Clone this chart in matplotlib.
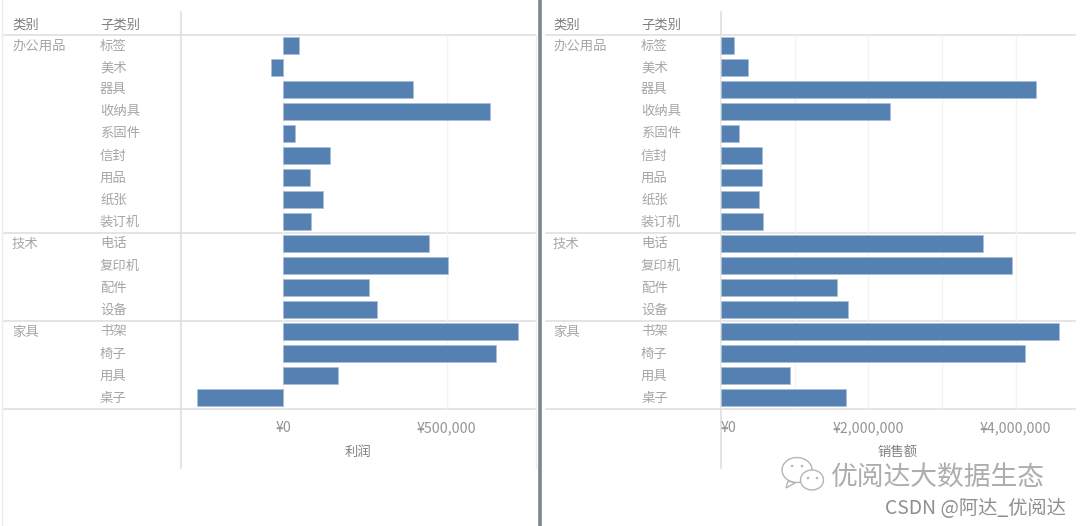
import matplotlib
matplotlib.use("Agg")
import matplotlib.pyplot as plt
from matplotlib.patches import Ellipse, Polygon

plt.rcParams['font.family'] = ['Noto Sans CJK SC', 'DejaVu Sans']

groups = ['办公用品', '技术', '家具']
group_rows = [0, 9, 13]
subcats = ['标签', '美术', '器具', '收纳具', '系固件', '信封', '用品', '纸张', '装订机',
           '电话', '复印机', '配件', '设备', '书架', '椅子', '用具', '桌子']
profit = [48000, -38000, 397000, 633000, 36000, 144000, 81000, 120000, 83000,
          447000, 505000, 262000, 286000, 720000, 650000, 167000, -265000]
sales = [183000, 373000, 4280000, 2290000, 245000, 550000, 550000, 509000, 570000,
         3560000, 3955000, 1580000, 1730000, 4580000, 4130000, 940000, 1700000]
profit_ticks = [0, 500000]
profit_labels = ['¥0', '¥500,000']
sales_ticks = [0, 2000000, 4000000]
sales_labels = ['¥0', '¥2,000,000', '¥4,000,000']
sales_minor = [1000000, 3000000]

W, H = 1080, 526
BAR = '#5480b2'
LINE = '#dcdcdc'
GRID = '#f3f3f3'
TXT = '#a6a6a6'
HEAD = '#808080'

fig = plt.figure(figsize=(W / 100, H / 100), dpi=100, facecolor='white')
bg = fig.add_axes([0, 0, 1, 1])
bg.set_xlim(0, W); bg.set_ylim(H, 0); bg.axis('off')


def make_axes(x0, x1):
    ax = fig.add_axes([x0 / W, 1 - 408.5 / H, (x1 - x0) / W, (408.5 - 34.5) / H])
    ax.patch.set_alpha(0)
    for s in ax.spines.values():
        s.set_visible(False)
    ax.set_ylim(16.5, -0.5)
    ax.set_yticks([])
    ax.tick_params(axis='x', length=0, pad=9, labelsize=10.2, labelcolor='#949494')
    return ax


rows = list(range(len(subcats)))

ax1 = make_axes(181, 535)
ax1.set_xlim(-314000, 771000)
ax1.set_xticks(profit_ticks, profit_labels)
ax1.xaxis.grid(True, color=GRID, lw=1)
ax1.set_axisbelow(True)
ax1.barh(rows, profit, height=0.77, color=BAR, edgecolor='#a9c0da', linewidth=0.4)

ax2 = make_axes(721, 1074.5)
ax2.set_xlim(0, 4797000)
ax2.set_xticks(sales_ticks, sales_labels)
ax2.set_xticks(sales_minor, minor=True)
ax2.tick_params(axis='x', which='minor', length=0)
ax2.xaxis.grid(True, which='both', color=GRID, lw=1)
ax2.set_axisbelow(True)
ax2.barh(rows, sales, height=0.77, color=BAR, edgecolor='#a9c0da', linewidth=0.4)
ax2.get_xticklabels()[0].set_ha('left')

# panel frames and separators
for y in (35, 233, 321, 409):
    bg.plot([4, 535], [y, y], color=LINE, lw=1.1)
    bg.plot([546, 1075], [y, y], color=LINE, lw=1.1)
for x in (181, 721):
    bg.plot([x, x], [12, 468], color=LINE, lw=1.1)
bg.plot([536, 536], [35, 468], color='#ececec', lw=1)
bg.plot([1.5, 1.5], [0, 526], color='#ececec', lw=1)
bg.plot([539.5, 539.5], [0, 526], color='#7d8590', lw=2.6)

# table text
for off in (0, 541):
    bg.text(12 + off, 25, '类别', fontsize=9.6, color=HEAD, va='center', ha='left')
    bg.text(100 + off, 25, '子类别', fontsize=9.6, color=HEAD, va='center', ha='left')
    for g, r in zip(groups, group_rows):
        bg.text(12 + off, 45.5 + 22 * r, g, fontsize=9.6, color=TXT, va='center', ha='left')
    for r, s in zip(rows, subcats):
        bg.text(100 + off, 45.5 + 22 * r, s, fontsize=9.6, color=TXT, va='center', ha='left')
bg.text(358, 452, '利润', fontsize=9.6, color=HEAD, va='center', ha='center')
bg.text(898, 452, '销售额', fontsize=9.6, color=HEAD, va='center', ha='center')

# watermark
wm = '#b4b4b4'
for cx, cy, w, h in ((797, 470, 30, 25), (812, 480, 23, 20)):
    bg.add_patch(Ellipse((cx, cy), w, h, fc='white', ec=wm, lw=1, zorder=3))
bg.add_patch(Polygon([[788, 481], [786, 488], [795, 483]], fc='white', ec=wm, lw=1, zorder=3))
for px, py in ((792, 466), (802, 466), (808, 478), (817, 478)):
    bg.add_patch(Ellipse((px, py), 2.5, 2.5, fc=wm, ec='none', zorder=4))
bg.text(831, 477, '优阅达大数据生态', fontsize=19.3, color='#adadad', va='center', ha='left',
        fontweight='light')
bg.text(885, 508, 'CSDN @阿达_优阅达', fontsize=13.9, color='#8f8f8f', va='center', ha='left')

fig.savefig('out.png', dpi=100, facecolor='white')
